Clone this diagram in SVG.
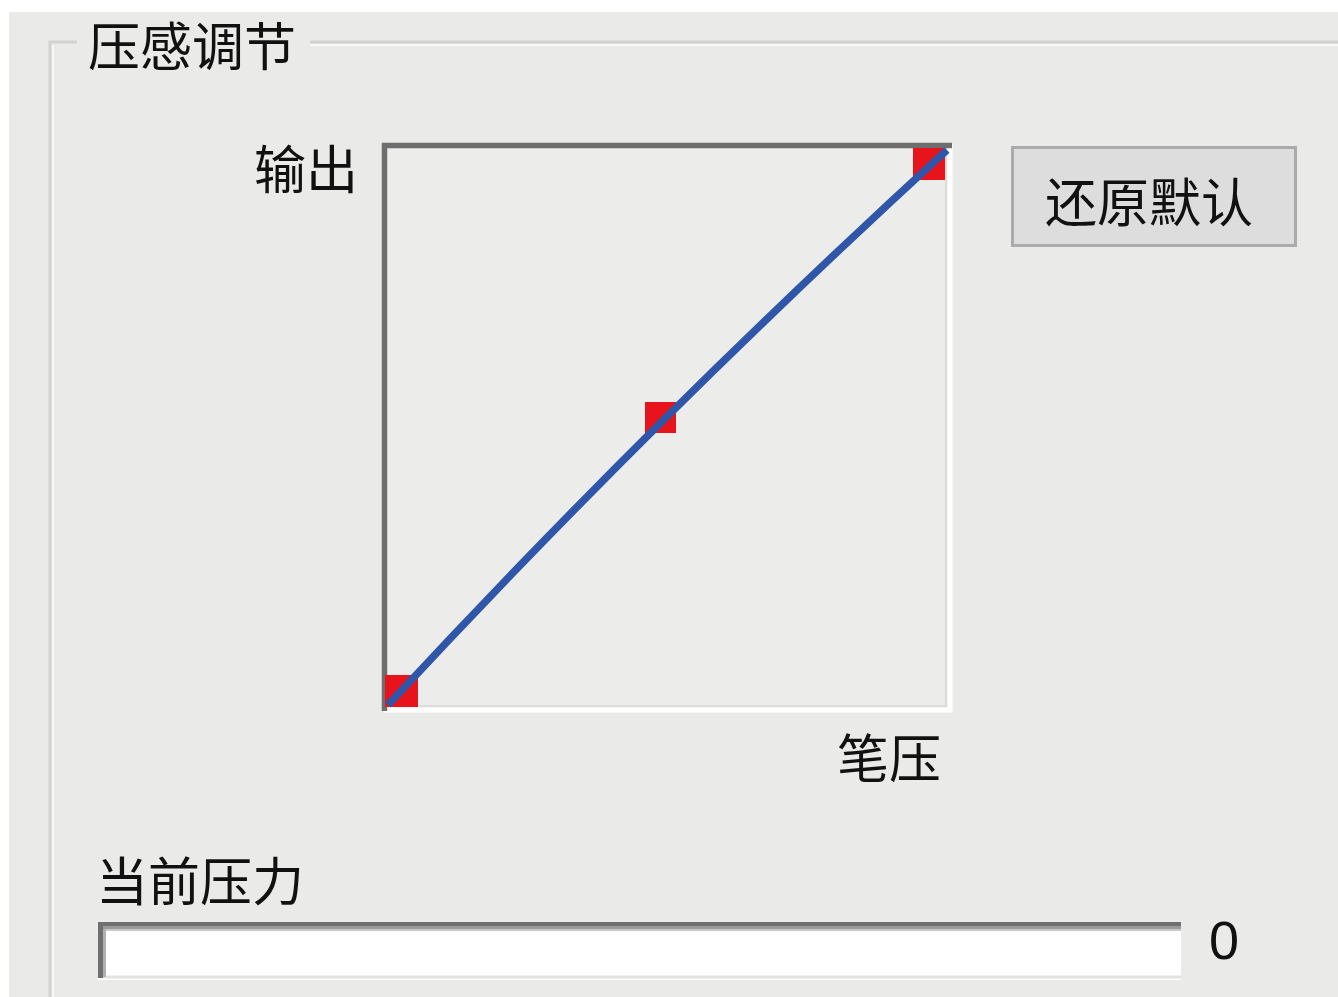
<svg xmlns="http://www.w3.org/2000/svg" width="1338" height="997" viewBox="0 0 1338 997">
<style>
.cjk{font-family:"Noto Sans CJK SC","Noto Sans",sans-serif;fill:#111;font-size:52px}
.num{font-family:"Liberation Sans",Arial,sans-serif;fill:#111;font-size:54px}
</style>
<rect x="0" y="0" width="1338" height="997" fill="#ffffff"/>
<rect x="9" y="12" width="1329" height="985" fill="#eaeae9"/>
<g id="groupbox">
<path d="M77,42 H50 V997 M310,42 H1338" fill="none" stroke="#d2d2d1" stroke-width="3"/>
<path d="M53,45 V997 M310,45 H1338" fill="none" stroke="#f8f8f8" stroke-width="2"/>
<text class="cjk" x="88" y="66">压感调节</text>
</g>
<g id="chart">
<rect x="382" y="143" width="572" height="570" fill="#ececeb"/>
<path d="M950,145 V710 H384" fill="none" stroke="#ffffff" stroke-width="5"/>
<path d="M946,149 V706 H388" fill="none" stroke="#dcdcdb" stroke-width="2"/>
<path d="M384.5,711 V145.5 H952" fill="none" stroke="#6e6e6e" stroke-width="5.5"/>
<text class="cjk" x="358" y="189" text-anchor="end">输出</text>
<text class="cjk" x="837" y="778">笔压</text>
</g>
<g id="points">
<rect x="385" y="675" width="33" height="32" fill="#e8141c"/>
<rect x="645" y="402" width="31" height="31" fill="#e8141c"/>
<rect x="913" y="148" width="32" height="32" fill="#e8141c"/>
</g>
<g id="connectors">
<path d="M388,705 Q655,417 947,150" fill="none" stroke="#2f56a8" stroke-width="7.5"/>
</g>
<g id="reset-button">
<rect x="1012.5" y="147.5" width="283" height="98" fill="#dddddd" stroke="#ababab" stroke-width="3"/>
<text class="cjk" x="1149" y="222" text-anchor="middle">还原默认</text>
</g>
<g id="pressure">
<text class="cjk" x="96" y="901">当前压力</text>
<rect x="98" y="922" width="1083" height="58" fill="#ffffff"/>
<path d="M1181,977 H100" fill="none" stroke="#e3e3e3" stroke-width="3"/>
<rect x="98" y="922" width="1083" height="4" fill="#6f6f6f"/>
<rect x="98" y="926" width="1083" height="3" fill="#9a9a9a"/>
<rect x="98" y="929" width="1083" height="2" fill="#c8c8c8"/>
<rect x="98" y="922" width="5" height="56" fill="#6f6f6f"/>
<rect x="103" y="929" width="3" height="48" fill="#b0b0b0"/>
<text class="num" x="1209" y="959">0</text>
</g>
</svg>
